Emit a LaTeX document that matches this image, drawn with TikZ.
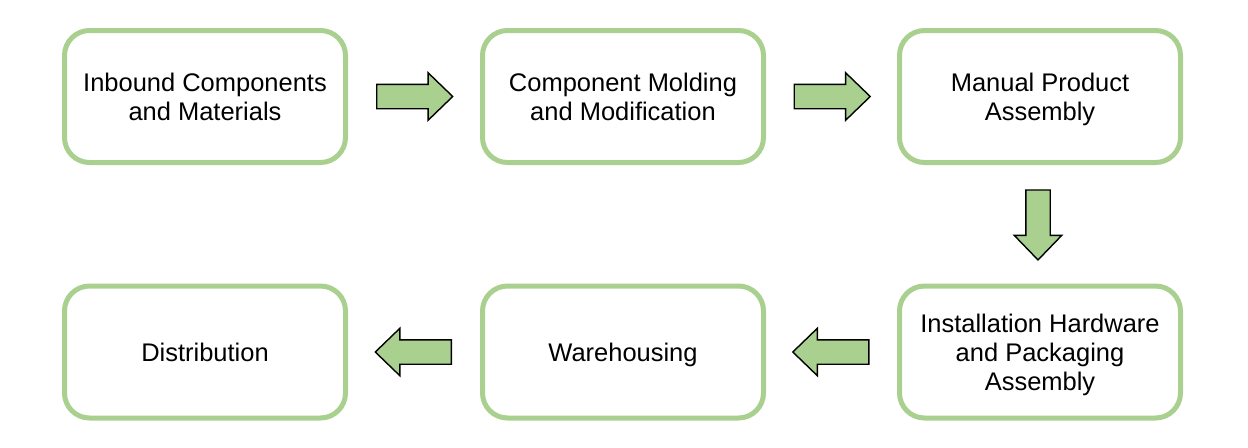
\documentclass[tikz,border=0pt]{standalone}
\usepackage{fontspec}
\setmainfont{Liberation Sans}
\usepackage{tikz}
\usetikzlibrary{shapes.arrows,calc}
\definecolor{leaf}{RGB}{169,208,142}

\begin{document}
\begin{tikzpicture}[
    stage/.style={draw=leaf, line width=0.1cm, rounded corners=0.5cm,
        minimum width=5.62cm, minimum height=2.64cm, align=center,
        text depth=0pt, font=\fontsize{14.5}{16.5}\selectfont},
    blockarrow/.style={single arrow, draw=black, fill=leaf, line width=0.8pt,
        minimum height=1.52cm, inner sep=0.23cm, anchor=tail,
        single arrow head extend=0.23cm, single arrow tip angle=88}]
    \useasboundingbox (0,0) rectangle (24.96,-8.94);
    \node [stage] (inbound) at (4.1,-1.93) {Inbound Components\\and Materials};
    \node [stage] (molding) at (12.46,-1.93) {Component Molding\\and Modification};
    \node [stage] (manual) at (20.8,-1.93) {Manual Product\\Assembly};
    \node [stage] (install) at (20.8,-7.04) {Installation Hardware\\and Packaging\\Assembly};
    \node [stage] (warehouse) at (12.46,-7.04) {Warehousing};
    \node [stage] (distrib) at (4.1,-7.04) {Distribution};
    % block arrows between stages
    \node [blockarrow] (a1) at ($(inbound.east)!0.5!(molding.west)+(-0.76,0)$) {};
    \node [blockarrow] (a2) at ($(molding.east)!0.5!(manual.west)+(-0.76,0)$) {};
    \node [blockarrow, shape border rotate=270, minimum height=1.4cm] (a3) at ($(manual.south)!0.5!(install.north)+(-0.04,0.7)$) {};
    \node [blockarrow, shape border rotate=180] (a4) at ($(install.west)!0.5!(warehouse.east)+(0.76,0)$) {};
    \node [blockarrow, shape border rotate=180] (a5) at ($(warehouse.west)!0.5!(distrib.east)+(0.76,0)$) {};
\end{tikzpicture}
\end{document}
